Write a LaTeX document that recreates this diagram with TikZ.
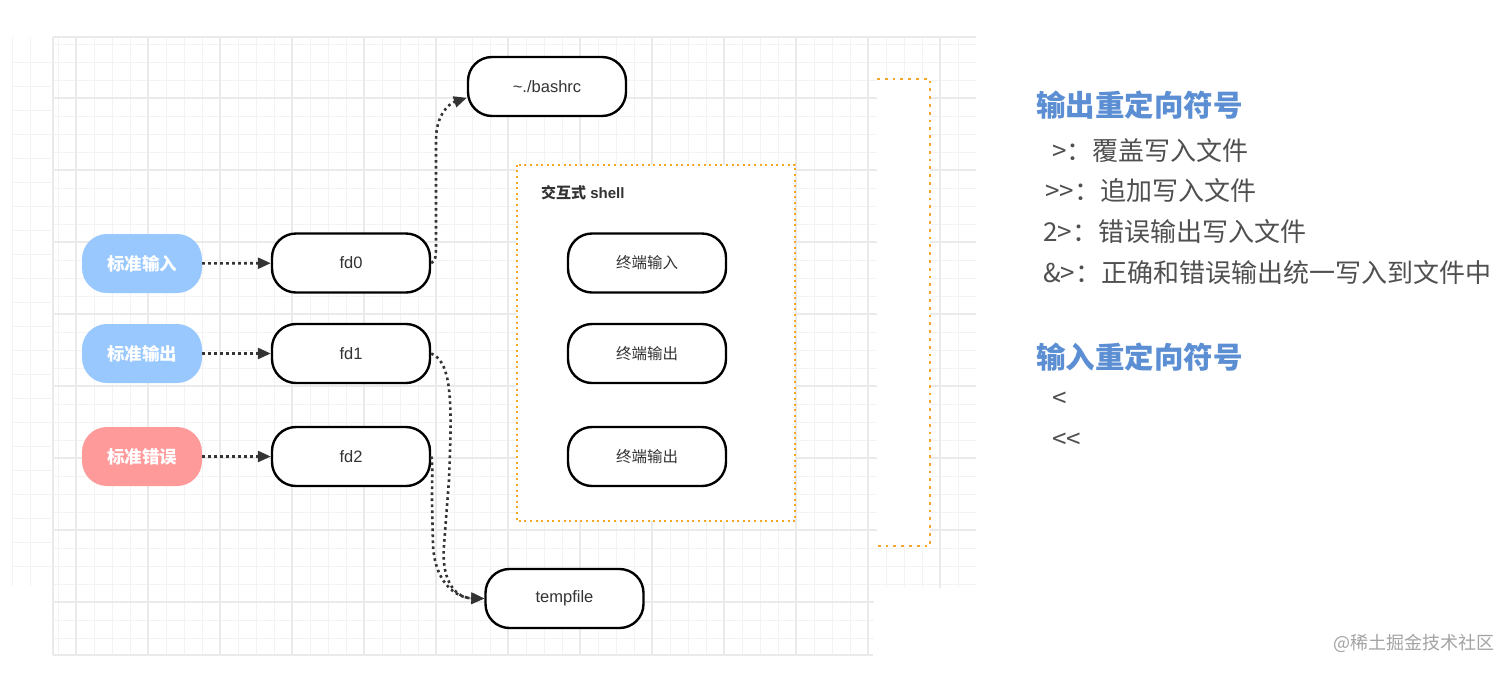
\documentclass[tikz,border=0pt]{standalone}
\usepackage{fontspec}
\setmainfont{Liberation Sans}
\newfontfamily\cjk{Noto Sans CJK SC}
\usetikzlibrary{arrows.meta}
\definecolor{boxtext}{HTML}{333333}
\definecolor{bluefill}{HTML}{99C8FF}
\definecolor{redfill}{HTML}{FF9A9A}
\definecolor{dotorange}{HTML}{F5A623}
\definecolor{titleblue}{HTML}{5B8ED3}
\definecolor{bodygray}{HTML}{505050}
\definecolor{gridminor}{HTML}{F3F3F3}
\definecolor{gridmajor}{HTML}{EAEAEA}
\definecolor{markgray}{HTML}{A3A3A3}
\tikzset{
  srcbox/.style={rounded corners=25pt, minimum width=120pt, minimum height=59pt,
    text=white, inner sep=0pt, font=\cjk\bfseries\fontsize{17.5}{20}\selectfont},
  stdblue/.style={srcbox, fill=bluefill},
  stdred/.style={srcbox, fill=redfill},
  fdbox/.style={draw=black, line width=2.4pt, rounded corners=24pt, fill=white,
    minimum width=158pt, minimum height=59pt, inner sep=0pt, text=boxtext,
    font=\fontsize{16.5}{19}\selectfont},
  termbox/.style={fdbox, font=\cjk\fontsize{15.5}{18}\selectfont},
  arr/.style={draw=boxtext, line width=2.6pt, dash pattern=on 2.6pt off 3.4pt,
    -{Triangle[length=13pt,width=11pt]}},
  orangedots/.style={draw=dotorange, line width=2pt, dash pattern=on 2pt off 3.6pt},
  gridmin/.style={draw=gridminor, line width=1pt},
  gridmaj/.style={draw=gridmajor, line width=1.2pt},
  body/.style={anchor=west, inner sep=0pt, text=bodygray, font=\cjk\fontsize{26}{30}\selectfont},
  heading/.style={anchor=west, inner sep=0pt, text=titleblue, font=\cjk\bfseries\fontsize{29.5}{34}\selectfont}
}
\begin{document}
\begin{tikzpicture}[x=1pt,y=-1pt]
\useasboundingbox (0,0) rectangle (1512,673);
\fill[white] (0,0) rectangle (1512,673);
% grid background
\begin{scope}
  \clip (53,37) rectangle (976,655);
  \foreach \x in {58,76,...,974} \draw[gridmin] (\x,37) -- (\x,655);
  \foreach \y in {44,62,...,655} \draw[gridmin] (53,\y) -- (976,\y);
  \foreach \x in {76,148,...,974} \draw[gridmaj] (\x,37) -- (\x,655);
  \foreach \y in {98,170,...,655} \draw[gridmaj] (53,\y) -- (976,\y);
\end{scope}
\draw[gridmaj] (53,37) -- (53,655);
\draw[gridmaj] (53,37) -- (976,37);
\draw[gridmaj] (53,655) -- (873,655);
\begin{scope}
  \clip (12,37) rectangle (53,586);
  \foreach \y in {62,86,...,586} \draw[gridmin] (12,\y) -- (53,\y);
  \draw[gridmin] (12,37) -- (12,586);
  \draw[gridmin] (30,37) -- (30,586);
\end{scope}
\fill[white] (874,588) rectangle (978,660);
\fill[white] (877,79) rectangle (930,546);

% interactive shell box
\node[draw=none, fill=white, minimum width=278pt, minimum height=356pt, inner sep=0pt] (shell) at (656,343) {};
\draw[orangedots] (shell.north west) rectangle (shell.south east);
\node[anchor=west, inner sep=0pt, text=boxtext, font=\bfseries\fontsize{15}{18}\selectfont] (shelllabel) at (541,193) {{\cjk 交互式} shell};

% bracket on the right
\coordinate (brA) at (877,79);
\coordinate (brB) at (930,79);
\coordinate (brC) at (930,546);
\coordinate (brD) at (877,546);
\draw[draw=dotorange, line width=2.8pt, dash pattern=on 2.8pt off 5pt] (brA) -- (brB) -- (brC) -- (brD);

% sources
\node[stdblue] (in0) at (142,263.5) {标准输入};
\node[stdblue] (out1) at (142,353.5) {标准输出};
\node[stdred] (err2) at (142,456.5) {标准错误};

% file descriptors
\node[fdbox] (fd0) at (351,263) {fd0};
\node[fdbox] (fd1) at (351,353.5) {fd1};
\node[fdbox] (fd2) at (351,456.5) {fd2};

% files
\node[fdbox] (bashrc) at (547,86.5) {\char`\~./bashrc};
\node[fdbox] (tempfile) at (564.5,598.5) {tempfile};

% terminal
\node[termbox] (t1) at (647,263) {终端输入};
\node[termbox] (t2) at (647,353.5) {终端输出};
\node[termbox] (t3) at (647,456.5) {终端输出};

% connectors
\draw[arr] (in0) -- (fd0);
\draw[arr] (out1) -- (fd1);
\draw[arr] (err2) -- (fd2);
\draw[arr] (fd0.east) .. controls (436,262) and (436,255) .. (436,240) -- (436,140)
   .. controls (436,116) and (448,104) .. (bashrc.188);
\draw[arr] (fd1.east) .. controls (455,362) and (451,420) .. (449,480) -- (444,545)
   .. controls (441,585) and (458,598) .. (tempfile.west);
\draw[arr] (fd2.east) .. controls (433,462) and (432,478) .. (432,500) -- (433,545)
   .. controls (435,585) and (458,598) .. (tempfile.west);

% right side text
\node[heading] (h1) at (1036,105) {输出重定向符号};
\node[body] (l1) at (1052,151) {>：覆盖写入文件};
\node[body] (l2) at (1045,191) {>>：追加写入文件};
\node[body] (l3) at (1043,232) {2>：错误输出写入文件};
\node[body] (l4) at (1043,273) {\&>：正确和错误输出统一写入到文件中};
\node[heading] (h2) at (1036,357) {输入重定向符号};
\node[body] (l5) at (1052,400) {<};
\node[body] (l6) at (1052,441) {<<};
\node[anchor=west, inner sep=0pt, text=markgray, font=\cjk\fontsize{18}{22}\selectfont] (mark) at (1333,643) {@稀土掘金技术社区};
\end{tikzpicture}
\end{document}
